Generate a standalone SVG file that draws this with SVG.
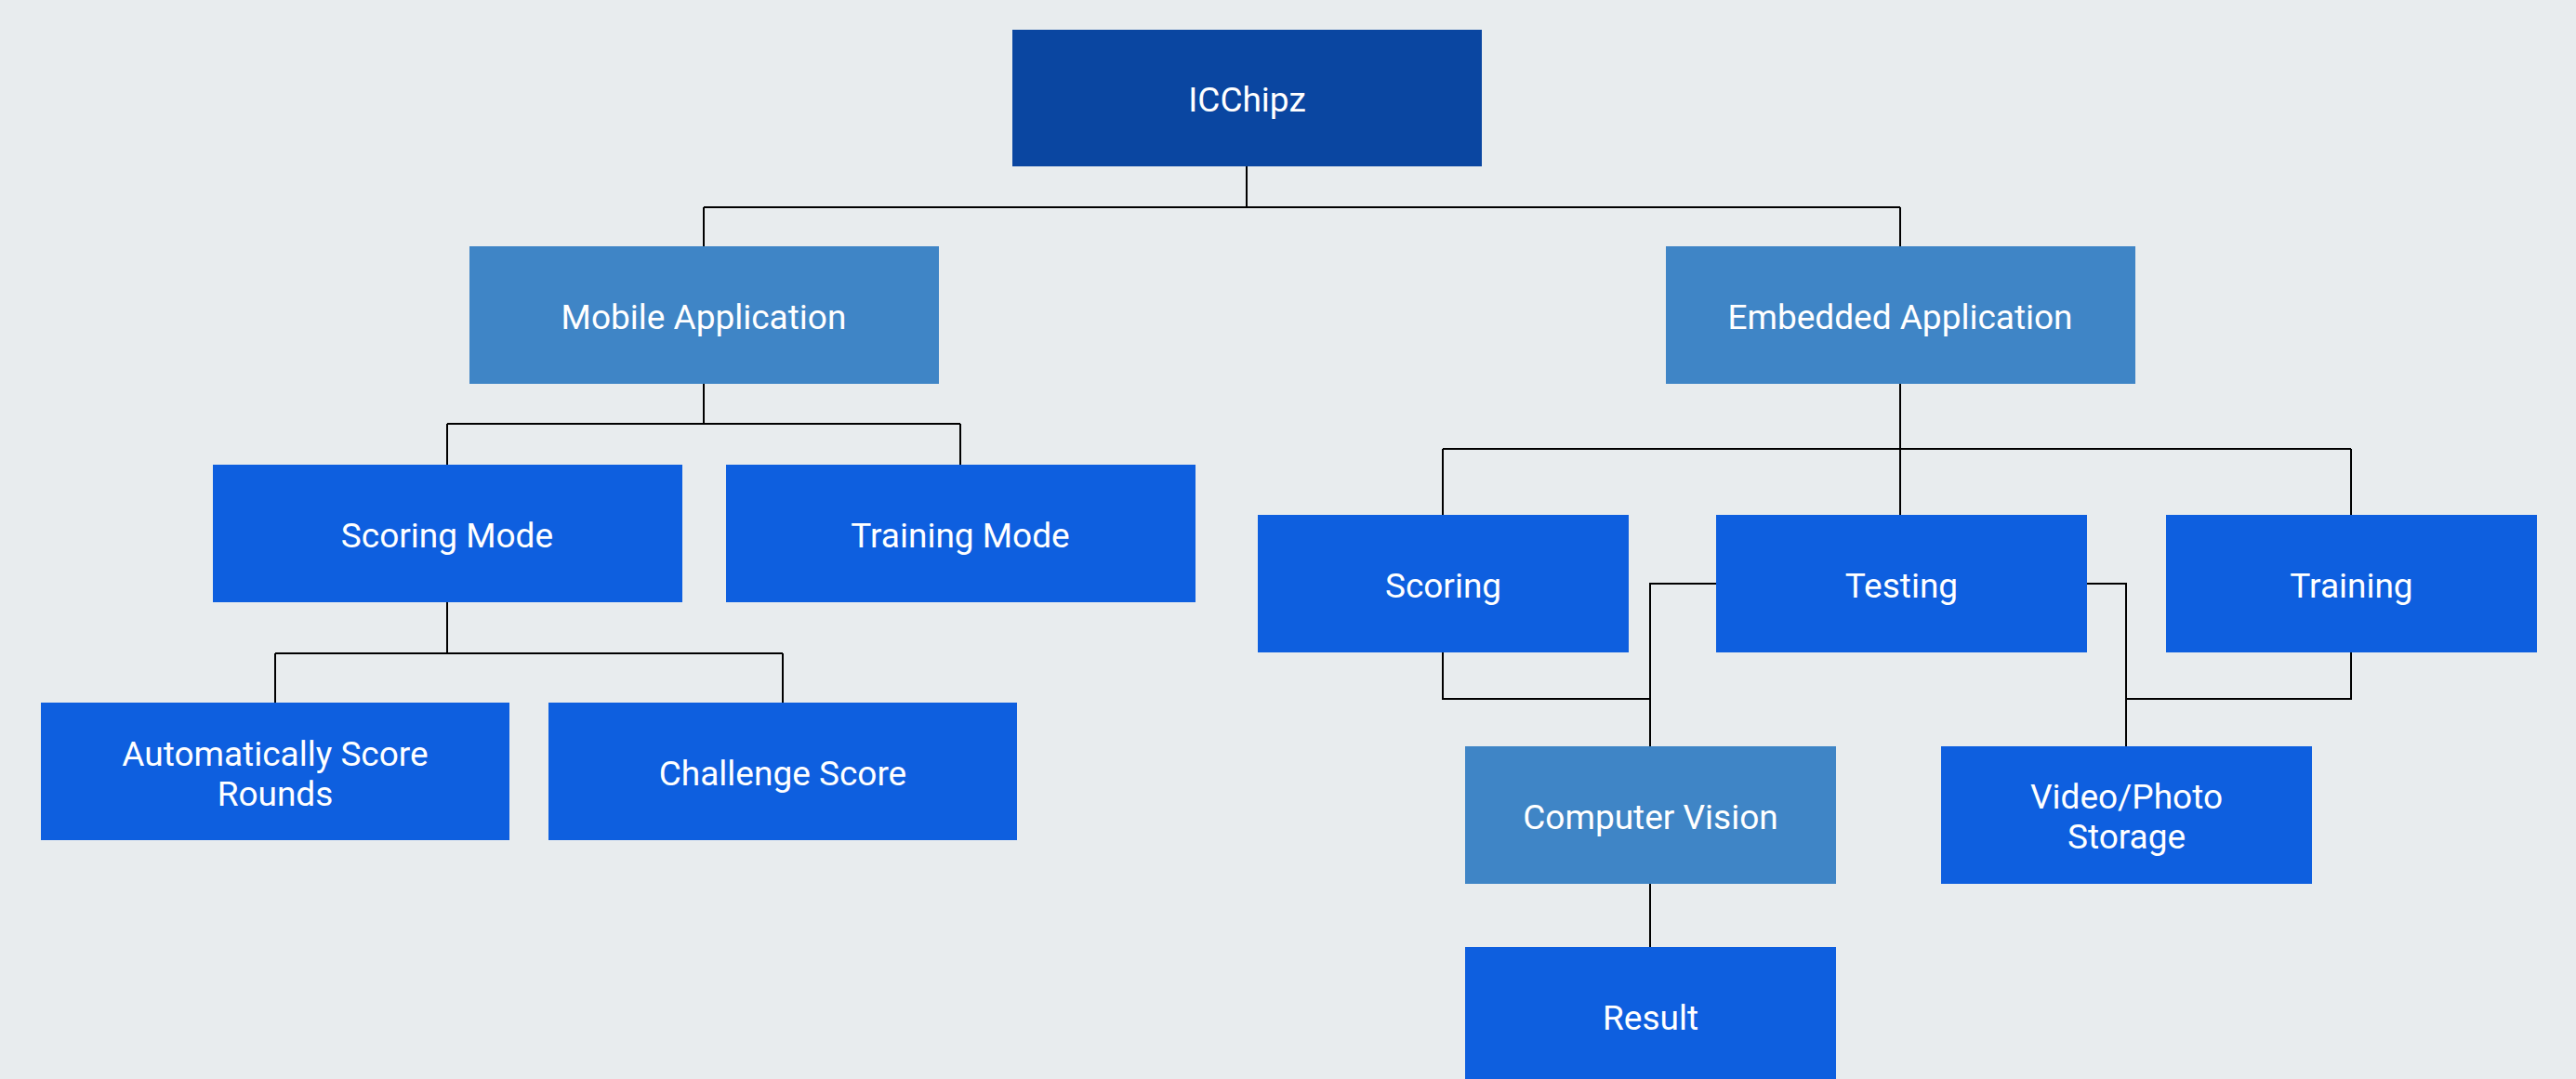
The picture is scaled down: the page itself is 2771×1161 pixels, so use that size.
<svg xmlns="http://www.w3.org/2000/svg" width="2771" height="1161" viewBox="0 0 2771 1161">
<style>
.n rect{stroke:none}
.root{fill:#0a46a1}
.mid{fill:#3f85c6}
.leaf{fill:#0e5fdf}
text{font-family:Roboto,"Liberation Sans",sans-serif;font-size:37px;fill:#ffffff;text-anchor:middle}
.c{fill:none;stroke:#000000;stroke-width:2}
</style>
<rect width="2771" height="1161" fill="#e8ecee"/>
<g id="connectors" class="c">
<path d="M1341 178V223M757 223H2044M757 223V265M2044 223V265"/>
<path d="M757 412V456M481 456H1033M481 456V500M1033 456V500"/>
<path d="M481 647V703M296 703H842M296 703V756M842 703V756"/>
<path d="M2044 412V483M1552 483H2529M1552 483V555M2044 483V555M2529 483V555"/>
<path d="M1846 628H1775V803M1552 702V752H1775"/>
<path d="M2245 628H2287V803M2529 702V752H2287"/>
<path d="M1775 951V1019"/>
</g>
<g id="icchipz" class="n"><rect class="root" x="1089" y="32" width="505" height="147"/><text x="1341.5" y="120">ICChipz</text></g>
<g id="mobile" class="n"><rect class="mid" x="505" y="265" width="505" height="148"/><text x="757" y="353.5">Mobile Application</text></g>
<g id="embedded" class="n"><rect class="mid" x="1792" y="265" width="505" height="148"/><text x="2044" y="353.5">Embedded Application</text></g>
<g id="scoring-mode" class="n"><rect class="leaf" x="229" y="500" width="505" height="148"/><text x="481" y="588.5">Scoring Mode</text></g>
<g id="training-mode" class="n"><rect class="leaf" x="781" y="500" width="505" height="148"/><text x="1033" y="588.5">Training Mode</text></g>
<g id="auto-score" class="n"><rect class="leaf" x="44" y="756" width="504" height="148"/><text x="296" y="823.5">Automatically Score</text><text x="296" y="866.5">Rounds</text></g>
<g id="challenge" class="n"><rect class="leaf" x="590" y="756" width="504" height="148"/><text x="842" y="844.5">Challenge Score</text></g>
<g id="scoring" class="n"><rect class="leaf" x="1353" y="554" width="399" height="148"/><text x="1552.5" y="642.5">Scoring</text></g>
<g id="testing" class="n"><rect class="leaf" x="1846" y="554" width="399" height="148"/><text x="2045.5" y="642.5">Testing</text></g>
<g id="training" class="n"><rect class="leaf" x="2330" y="554" width="399" height="148"/><text x="2529.5" y="642.5">Training</text></g>
<g id="computer-vision" class="n"><rect class="mid" x="1576" y="803" width="399" height="148"/><text x="1775.5" y="891.5">Computer Vision</text></g>
<g id="video-photo" class="n"><rect class="leaf" x="2088" y="803" width="399" height="148"/><text x="2287.5" y="870">Video/Photo</text><text x="2287.5" y="913">Storage</text></g>
<g id="result" class="n"><rect class="leaf" x="1576" y="1019" width="399" height="148"/><text x="1775.5" y="1107.5">Result</text></g>
</svg>
